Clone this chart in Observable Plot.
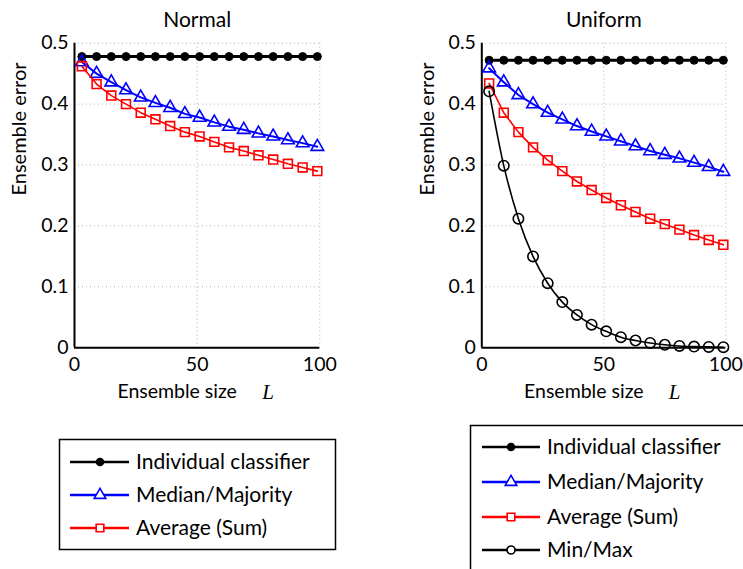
<!DOCTYPE html>
<html><head><meta charset="utf-8">
<script src="https://cdn.jsdelivr.net/npm/d3@7"></script>
<script src="https://cdn.jsdelivr.net/npm/@observablehq/plot@0.6"></script>
<style>
body{margin:0;background:#fff;}
#wrap{position:relative;width:743px;height:569px;overflow:hidden;background:#fff;font-family:Lato,sans-serif;}
#wrap > *{position:absolute;top:0;}
</style></head><body><div id="wrap"></div>
<script>
// ---- data ----
const ensembleSize = [3, 9, 15, 21, 27, 33, 39, 45, 51, 57, 63, 69, 75, 81, 87, 93, 99];
const seriesNames = ["Individual classifier", "Median/Majority", "Average (Sum)", "Min/Max"];
const panelTitles = ["Normal", "Uniform"];
const xTicks = [0, 50, 100];
const yTicks = [0, 0.1, 0.2, 0.3, 0.4, 0.5];

const normalIndividual = [0.478,0.478,0.478,0.478,0.478,0.478,0.478,0.478,0.478,0.478,0.478,0.478,0.478,0.478,0.478,0.478,0.478];
const normalMedian = [0.469,0.450,0.436,0.423,0.411,0.402,0.394,0.384,0.378,0.370,0.363,0.358,0.352,0.347,0.341,0.336,0.330];
const normalAverage = [0.462,0.433,0.414,0.400,0.386,0.375,0.364,0.354,0.347,0.338,0.329,0.323,0.316,0.309,0.302,0.296,0.290];

const uniformIndividual = [0.472,0.472,0.472,0.472,0.472,0.472,0.472,0.472,0.472,0.472,0.472,0.472,0.472,0.472,0.472,0.472,0.472];
const uniformMedian = [0.459,0.436,0.415,0.400,0.386,0.375,0.364,0.355,0.347,0.339,0.331,0.323,0.317,0.311,0.304,0.297,0.289];
const uniformAverage = [0.434,0.386,0.354,0.329,0.308,0.290,0.273,0.259,0.246,0.234,0.223,0.212,0.203,0.194,0.185,0.177,0.169];
const uniformMinMax = [0.421,0.299,0.212,0.150,0.106,0.075,0.054,0.038,0.027,0.0175,0.012,0.008,0.005,0.003,0.002,0.0015,0.001];

// ---- styles per series ----
const styles = {
  "Individual classifier": {stroke: "black", width: 3, symbol: "circle", fill: "black", r: 4},
  "Median/Majority": {stroke: "#0000ff", width: 2, symbol: "triangle", fill: "none", r: 4.7},
  "Average (Sum)": {stroke: "#ff0000", width: 1.6, symbol: "square", fill: "none", r: 5},
  "Min/Max": {stroke: "black", width: 1.6, symbol: "circle", fill: "none", r: 5.2}
};

const wrap = document.getElementById("wrap");
const fmt = d => d === 0 ? "0" : d3.format(".1f")(d);

function panel(title, seriesList, left, width, marginLeft, marginRight) {
  const marks = [
    Plot.gridX([50, 100], {stroke: "#b0b0b0", strokeOpacity: 1, strokeDasharray: "1,3"}),
    Plot.gridY([0.1, 0.2, 0.3, 0.4, 0.5], {stroke: "#b0b0b0", strokeOpacity: 1, strokeDasharray: "1,3"}),
    Plot.axisX({ticks: xTicks, tickSize: 0, tickPadding: 9, fontSize: 19.5, label: null}),
    Plot.axisY({ticks: yTicks, tickSize: 0, tickPadding: 6, fontSize: 19.5, tickFormat: fmt, label: null}),
    Plot.ruleX([0], {stroke: "black", strokeWidth: 2}),
    Plot.ruleY([0], {stroke: "black", strokeWidth: 2})
  ];
  for (const [name, values] of seriesList) {
    const s = styles[name];
    const rows = ensembleSize.map((L, i) => ({L, err: values[i]}));
    marks.push(Plot.line(rows, {x: "L", y: "err", stroke: s.stroke, strokeWidth: s.width,
      curve: name === "Min/Max" ? "monotone-x" : "linear"}));
    marks.push(Plot.dot(rows, {x: "L", y: "err", symbol: s.symbol, r: s.r, stroke: s.stroke,
      fill: s.fill, strokeWidth: s.symbol === "circle" && s.fill !== "none" ? 1 : 1.6}));
  }
  marks.push(Plot.text([title], {frameAnchor: "top", dy: -23, fontSize: 21, lineAnchor: "middle"}));
  marks.push(Plot.text(["Ensemble error"], {frameAnchor: "left", dx: -54.5, rotate: -90, fontSize: 20, lineAnchor: "middle"}));
  marks.push(Plot.text(["Ensemble size"], {frameAnchor: "bottom", dx: -20, dy: 44, fontSize: 19.5, lineAnchor: "middle"}));
  marks.push(Plot.text(["L"], {frameAnchor: "bottom", dx: 65, dy: 44, fontSize: 21, lineAnchor: "middle", textAnchor: "start",
    fontFamily: "Liberation Serif", fontStyle: "italic"}));
  const svg = Plot.plot({
    width, height: 410,
    marginLeft, marginRight, marginTop: 42.7, marginBottom: 62.7,
    x: {domain: [0, 100]},
    y: {domain: [0, 0.5]},
    style: {fontFamily: "Lato, sans-serif", color: "black", background: "transparent", overflow: "visible"},
    marks
  });
  svg.style.left = left + "px";
  wrap.appendChild(svg);
}

panel(panelTitles[0], [
  [seriesNames[0], normalIndividual],
  [seriesNames[1], normalMedian],
  [seriesNames[2], normalAverage]
], 0, 372, 74, 52.7);

panel(panelTitles[1], [
  [seriesNames[0], uniformIndividual],
  [seriesNames[1], uniformMedian],
  [seriesNames[2], uniformAverage],
  [seriesNames[3], uniformMinMax]
], 372, 371, 109.3, 17.7);

// ---- legends ----
const lg = d3.select(wrap).append("svg").attr("width", 743).attr("height", 569)
  .style("left", "0px").style("font-family", "Lato, sans-serif");

function legend(box, names, ys, x0, x1, xm, xt) {
  lg.append("rect").attr("x", box[0]).attr("y", box[1]).attr("width", box[2]).attr("height", box[3])
    .attr("fill", "white").attr("stroke", "black").attr("stroke-width", 1.5);
  names.forEach((name, i) => {
    const s = styles[name];
    const y = ys[i];
    lg.append("line").attr("x1", x0).attr("x2", x1).attr("y1", y).attr("y2", y)
      .attr("stroke", s.stroke).attr("stroke-width", 2.5);
    const sym = {circle: d3.symbolCircle, triangle: d3.symbolTriangle, square: d3.symbolSquare}[s.symbol];
    const rr = name === "Individual classifier" ? 3.5 : name === "Min/Max" ? 4 : 4.3;
    lg.append("path").attr("d", d3.symbol(sym, Math.PI * rr * rr)())
      .attr("transform", `translate(${xm},${y})`)
      .attr("fill", s.fill === "none" ? "white" : s.fill).attr("stroke", s.stroke).attr("stroke-width", 1.6);
    lg.append("text").attr("x", xt).attr("y", y).attr("dy", "0.35em").attr("font-size", 21)
      .attr("fill", "black").text(name);
  });
}
legend([59.5, 439.5, 276, 110], seriesNames.slice(0, 3), [462, 495, 528], 70, 129, 100, 136);
legend([470.5, 425.5, 320, 200], seriesNames, [447, 482, 517, 550], 482, 540, 511, 547);
</script></body></html>
